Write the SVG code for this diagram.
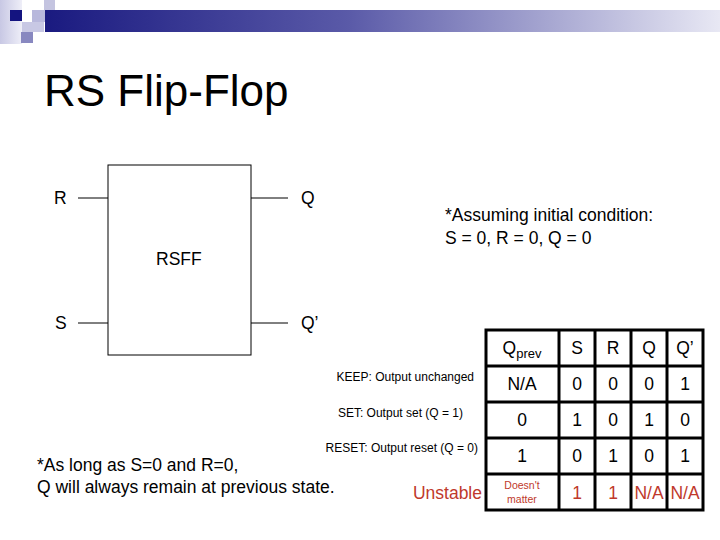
<svg xmlns="http://www.w3.org/2000/svg" width="720" height="540" viewBox="0 0 720 540">
<defs>
<linearGradient id="bar" x1="0" x2="1" y1="0" y2="0"><stop offset="0" stop-color="#1a1a80"/><stop offset="0.45" stop-color="#5a5aa8"/><stop offset="1" stop-color="#e8e8f4"/></linearGradient>
<linearGradient id="lsq" x1="0" x2="1"><stop offset="0" stop-color="#c8c8e4"/><stop offset="1" stop-color="#eeeef8"/></linearGradient>
</defs>
<style>
text{font-family:"Liberation Sans",Arial,sans-serif;fill:#000}
.pin{font-size:17.5px}
.cell{font-size:17.5px;text-anchor:middle}
.red{fill:#c0392b}
.small{font-size:12px}
line.w{stroke:#000;stroke-width:1}
line.t{stroke:#000;stroke-width:3}
</style>
<g id="decor">
<rect x="0" y="0" width="22" height="44" fill="url(#lsq)"/>
<rect x="44" y="0" width="11" height="10" fill="#c4c4e0"/>
<rect x="32" y="10" width="22" height="12" fill="#b8b8dc"/>
<rect x="45" y="10" width="675" height="22" fill="url(#bar)"/>
<rect x="10" y="10" width="12" height="11" fill="#141480"/>
<rect x="22" y="22" width="22" height="10" fill="#c8c8e4"/>
<rect x="21" y="32" width="12" height="11" fill="#8888c0"/>
</g>
<text x="44" y="106" font-size="44">RS Flip-Flop</text>
<g id="rsff">
<rect x="108" y="165" width="143" height="190" fill="#fff" stroke="#000" stroke-width="1"/>
<text x="156" y="265" class="pin">RSFF</text>
</g>
<g id="connectors">
<line class="w" x1="78" y1="198" x2="108" y2="198"/>
<line class="w" x1="78" y1="323" x2="108" y2="323"/>
<line class="w" x1="251" y1="198" x2="288" y2="198"/>
<line class="w" x1="251" y1="323" x2="288" y2="323"/>
</g>
<g id="pins">
<text x="54" y="204" class="pin">R</text>
<text x="55" y="329" class="pin">S</text>
<text x="301" y="204" class="pin">Q</text>
<text x="301" y="329" class="pin">Q’</text>
</g>
<text x="445" y="221" class="pin">*Assuming initial condition:</text>
<text x="445" y="244" class="pin">S = 0, R = 0, Q = 0</text>
<text x="474" y="381" class="small" text-anchor="end">KEEP: Output unchanged</text>
<text x="463" y="417" class="small" text-anchor="end">SET: Output set (Q = 1)</text>
<text x="478" y="452" class="small" text-anchor="end">RESET: Output reset (Q = 0)</text>
<text x="482" y="499" class="pin red" text-anchor="end">Unstable</text>
<text x="37" y="471" class="pin">*As long as S=0 and R=0,</text>
<text x="37" y="493" class="pin">Q will always remain at previous state.</text>
<g id="table">
<rect x="486" y="330" width="217" height="180" fill="#fff" stroke="#000" stroke-width="3"/>
<line class="t" x1="559" y1="330" x2="559" y2="510"/>
<line class="t" x1="595" y1="330" x2="595" y2="510"/>
<line class="t" x1="631" y1="330" x2="631" y2="510"/>
<line class="t" x1="667" y1="330" x2="667" y2="510"/>
<line class="t" x1="486" y1="366" x2="703" y2="366"/>
<line class="t" x1="486" y1="402" x2="703" y2="402"/>
<line class="t" x1="486" y1="438" x2="703" y2="438"/>
<line class="t" x1="486" y1="474" x2="703" y2="474"/>
<text x="522" y="354" class="cell">Q<tspan font-size="13" dy="4">prev</tspan></text>
<text x="577" y="354" class="cell">S</text><text x="613" y="354" class="cell">R</text><text x="649" y="354" class="cell">Q</text><text x="685" y="354" class="cell">Q’</text>
<text x="522" y="390" class="cell">N/A</text><text x="577" y="390" class="cell">0</text><text x="613" y="390" class="cell">0</text><text x="649" y="390" class="cell">0</text><text x="685" y="390" class="cell">1</text>
<text x="522" y="426" class="cell">0</text><text x="577" y="426" class="cell">1</text><text x="613" y="426" class="cell">0</text><text x="649" y="426" class="cell">1</text><text x="685" y="426" class="cell">0</text>
<text x="522" y="462" class="cell">1</text><text x="577" y="462" class="cell">0</text><text x="613" y="462" class="cell">1</text><text x="649" y="462" class="cell">0</text><text x="685" y="462" class="cell">1</text>
<text x="522" y="489" class="red" font-size="10.5" text-anchor="middle">Doesn't</text><text x="522" y="503" class="red" font-size="10.5" text-anchor="middle">matter</text>
<text x="577" y="499" class="cell red">1</text><text x="613" y="499" class="cell red">1</text><text x="649" y="499" class="cell red">N/A</text><text x="685" y="499" class="cell red">N/A</text>
</g>
</svg>
